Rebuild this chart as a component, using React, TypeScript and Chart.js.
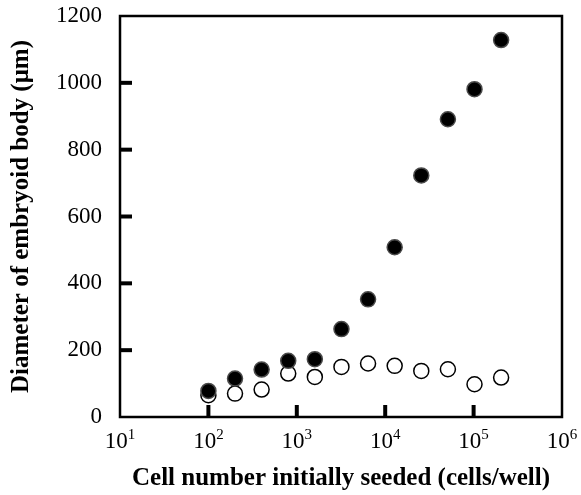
import React, { useEffect, useRef } from "react";
import { Chart, registerables } from "chart.js";

Chart.register(...registerables);

// Cells seeded per well (doubling series)
const seededCells = [100, 200, 400, 800, 1600, 3200, 6400, 12800, 25600, 51200, 102400, 204800];
// Embryoid body diameter (µm), filled markers
const diameterFilled = [78, 115, 142, 168, 173, 263, 352, 508, 723, 891, 981, 1128];
// Embryoid body diameter (µm), open markers
const diameterOpen = [65, 70, 82, 130, 120, 150, 160, 153, 138, 143, 98, 118];

// Decade ticks on the log axis, labelled as base + raised exponent
const xTickValues = [10, 100, 1000, 10000, 100000, 1000000];
const xTickBase = "10";
const xTickExponents = ["1", "2", "3", "4", "5", "6"];
const yTickValues = [0, 200, 400, 600, 800, 1000, 1200];

const xTitle = "Cell number initially seeded (cells/well)";
const yTitle = "Diameter of embryoid body (μm)";

const SERIF = "'Liberation Serif', 'Times New Roman', serif";

// Box frame around the plot plus short inward major ticks
const framePlugin = {
  id: "frameAndInnerTicks",
  beforeDatasetsDraw(chart: any) {
    const { ctx, chartArea, scales } = chart;
    const { left, right, top, bottom } = chartArea;
    ctx.save();
    ctx.strokeStyle = "#000";
    ctx.lineWidth = 4;
    ctx.lineCap = "butt";
    const tickLen = 12;
    for (const v of yTickValues) {
      if (v === yTickValues[0] || v === yTickValues[yTickValues.length - 1]) continue;
      const y = scales.y.getPixelForValue(v);
      ctx.beginPath();
      ctx.moveTo(left, y);
      ctx.lineTo(left + tickLen, y);
      ctx.stroke();
    }
    for (const v of xTickValues) {
      if (v === xTickValues[0] || v === xTickValues[xTickValues.length - 1]) continue;
      const x = scales.x.getPixelForValue(v);
      ctx.beginPath();
      ctx.moveTo(x, bottom);
      ctx.lineTo(x, bottom - tickLen);
      ctx.stroke();
    }
    ctx.lineWidth = 2.5;
    ctx.strokeRect(left, top, right - left, bottom - top);
    ctx.restore();
  },
  afterDraw(chart: any) {
    // Power-of-ten labels with a superscript exponent
    const { ctx, chartArea, scales } = chart;
    const baseline = chartArea.bottom + 31;
    const baseFont = `23px ${SERIF}`;
    const expFont = `15px ${SERIF}`;
    ctx.save();
    ctx.fillStyle = "#000";
    ctx.textBaseline = "alphabetic";
    ctx.textAlign = "left";
    xTickValues.forEach((v, i) => {
      const x = scales.x.getPixelForValue(v);
      ctx.font = baseFont;
      const wb = ctx.measureText(xTickBase).width;
      ctx.font = expFont;
      const we = ctx.measureText(xTickExponents[i]).width;
      const start = x - (wb + we) / 2;
      ctx.font = baseFont;
      ctx.fillText(xTickBase, start, baseline);
      ctx.font = expFont;
      ctx.fillText(xTickExponents[i], start + wb, baseline - 9);
    });
    ctx.restore();
  },
};

export default function App() {
  const canvasRef = useRef<HTMLCanvasElement | null>(null);

  useEffect(() => {
    const canvas = canvasRef.current;
    if (!canvas) return;
    const chart = new Chart(canvas, {
      type: "scatter",
      data: {
        datasets: [
          {
            label: "filled",
            data: seededCells.map((x, i) => ({ x, y: diameterFilled[i] })),
            pointStyle: "circle",
            pointRadius: 7.5,
            pointHoverRadius: 7.5,
            backgroundColor: "#000",
            borderColor: "#4a4a4a",
            borderWidth: 1.5,
          },
          {
            label: "open",
            data: seededCells.map((x, i) => ({ x, y: diameterOpen[i] })),
            pointStyle: "circle",
            pointRadius: 7.5,
            pointHoverRadius: 7.5,
            backgroundColor: "#fff",
            borderColor: "#000",
            borderWidth: 1.5,
          },
        ],
      },
      plugins: [framePlugin],
      options: {
        animation: false,
        responsive: true,
        maintainAspectRatio: false,
        layout: { padding: { top: 16, right: 19, left: 0, bottom: 0 } },
        plugins: {
          legend: { display: false },
          tooltip: { enabled: false },
        },
        scales: {
          x: {
            type: "logarithmic",
            min: 10,
            max: 1000000,
            grid: { display: false, drawTicks: false },
            border: { display: false },
            afterBuildTicks: (scale: any) => {
              scale.ticks = xTickValues.map((v) => ({ value: v, major: true }));
            },
            afterFit: (scale: any) => {
              scale.height = 78;
              scale.paddingLeft = 0;
              scale.paddingRight = 0;
            },
            ticks: { display: false },
            title: {
              display: true,
              text: xTitle,
              color: "#000",
              font: { family: SERIF, size: 25, weight: "bold" },
              padding: { top: 0, bottom: 1 },
            },
          },
          y: {
            min: 0,
            max: 1200,
            grid: { display: false, drawTicks: false },
            border: { display: false },
            afterBuildTicks: (scale: any) => {
              scale.ticks = yTickValues.map((v) => ({ value: v }));
            },
            afterFit: (scale: any) => {
              scale.width = 120;
              scale.paddingTop = 0;
              scale.paddingBottom = 0;
            },
            ticks: {
              padding: 18,
              color: "#000",
              font: { family: SERIF, size: 23 },
              callback: (value: any) => String(value),
            },
            title: {
              display: true,
              text: yTitle,
              color: "#000",
              font: { family: SERIF, size: 25, weight: "bold" },
              padding: { top: 7, bottom: 0 },
            },
          },
        },
      },
    });
    return () => chart.destroy();
  }, []);

  return (
    <div style={{ position: "fixed", left: 0, top: 0, width: 581, height: 495, background: "#fff" }}>
      <canvas ref={canvasRef} />
    </div>
  );
}
